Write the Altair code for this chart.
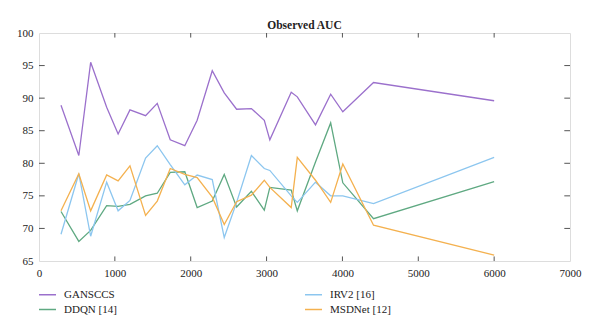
import altair as alt
import pandas as pd

x_vals = [290, 525, 681, 892, 1043, 1199, 1405, 1559, 1730, 1922, 2085, 2284,
          2442, 2605, 2800, 2970, 3043, 3325, 3405, 3645, 3845, 4005, 4410, 6000]

gansccs = [88.9, 81.2, 95.5, 88.6, 84.5, 88.2, 87.3, 89.2, 83.6, 82.7, 86.6, 94.2,
           90.8, 88.3, 88.4, 86.6, 83.6, 90.9, 90.2, 85.9, 90.6, 87.9, 92.4, 89.6]
irv2 = [69.1, 78.4, 68.8, 77.1, 72.7, 74.3, 80.8, 82.7, 79.8, 76.7, 78.2, 77.5,
        68.6, 74.0, 81.2, 79.2, 78.9, 75.0, 74.0, 77.1, 75.0, 75.0, 73.8, 80.9]
ddqn = [72.6, 68.0, 69.7, 73.5, 73.4, 73.7, 75.0, 75.4, 78.6, 78.7, 73.2, 74.2,
        78.3, 73.3, 75.7, 72.8, 76.3, 75.9, 72.7, 80.2, 86.2, 77.0, 71.5, 77.2]
msdnet = [72.7, 78.4, 72.7, 78.2, 77.3, 79.6, 72.0, 74.2, 79.2, 78.3, 77.8, 74.8,
          70.6, 74.1, 75.1, 77.4, 76.3, 73.2, 80.9, 77.4, 74.0, 79.9, 70.5, 65.9]

# legend order (filled so that row 1 = GANSCCS, IRV2; row 2 = DDQN, MSDNet)
series_names = ["GANSCCS", "DDQN [14]", "IRV2 [16]", "MSDNet [12]"]
series_colors = ["#9b70cc", "#5fa982", "#8cc6ef", "#f4b14f"]
series_values = [gansccs, ddqn, irv2, msdnet]

x_ticks = [1000, 2000, 3000, 4000, 5000, 6000]
y_ticks = [70, 75, 80, 85, 90, 95]
x_labels = list(range(0, 7001, 1000))
y_labels = list(range(65, 101, 5))

rows = []
for name, vals in zip(series_names, series_values):
    for xv, yv in zip(x_vals, vals):
        rows.append({"x": xv, "y": yv, "series": name})
df = pd.DataFrame(rows)

font = "Liberation Serif, DejaVu Serif, serif"
xscale = alt.Scale(domain=[0, 7000], nice=False)
yscale = alt.Scale(domain=[65, 100], nice=False)

x_axis = alt.Axis(title=None, values=x_labels, format="d", labelFont=font,
                  labelFontSize=11, labelColor="#222", labelOverlap=False,
                  labelFlush=False, tickSize=0, labelPadding=6, domain=False,
                  grid=False)
y_axis = alt.Axis(title=None, values=y_labels, format="d", labelFont=font,
                  labelFontSize=11, labelColor="#222", labelOverlap=False,
                  labelFlush=False, tickSize=0, labelPadding=6, domain=False,
                  grid=False)

lines = alt.Chart(df).mark_line(strokeWidth=1.3).encode(
    x=alt.X("x:Q", scale=xscale, axis=x_axis),
    y=alt.Y("y:Q", scale=yscale, axis=y_axis),
    color=alt.Color("series:N",
                    scale=alt.Scale(domain=series_names, range=series_colors),
                    sort=series_names,
                    legend=alt.Legend(title=None, orient="none", legendX=-1, legendY=252,
                                      columns=2, columnPadding=184, rowPadding=-1,
                                      symbolType="stroke", symbolSize=290,
                                      symbolStrokeWidth=1.5, labelFont=font,
                                      labelFontSize=11, labelColor="#222",
                                      labelOffset=7)),
)

# inward ticks on all four sides
tdx = pd.DataFrame({"t": x_ticks})
tdy = pd.DataFrame({"t": y_ticks})
tick_style = dict(color="#555", strokeWidth=1)
bottom = alt.Chart(tdx).mark_rule(**tick_style).encode(
    x=alt.X("t:Q", scale=xscale, axis=x_axis),
    y=alt.datum(65, scale=yscale, axis=y_axis), y2=alt.datum(65.7))
top = alt.Chart(tdx).mark_rule(**tick_style).encode(
    x=alt.X("t:Q", scale=xscale, axis=x_axis),
    y=alt.datum(100, scale=yscale, axis=y_axis), y2=alt.datum(99.3))
left = alt.Chart(tdy).mark_rule(**tick_style).encode(
    y=alt.Y("t:Q", scale=yscale, axis=y_axis),
    x=alt.datum(0, scale=xscale, axis=x_axis), x2=alt.datum(75))
right = alt.Chart(tdy).mark_rule(**tick_style).encode(
    y=alt.Y("t:Q", scale=yscale, axis=y_axis),
    x=alt.datum(7000, scale=xscale, axis=x_axis), x2=alt.datum(6925))

chart = alt.layer(lines, bottom, top, left, right).properties(
    width=531, height=228,
    title=alt.TitleParams("Observed AUC", font=font, fontSize=11.5, fontWeight="bold",
                          color="#222", anchor="middle", offset=2, dy=6),
    autosize=alt.AutoSizeParams(type="none"),
    padding={"left": 39, "top": 33, "right": 30, "bottom": 67},
).configure_view(stroke="#666", strokeWidth=1.6).configure(background="white")

chart.save("out.html", embed_options={"renderer": "svg", "actions": False})
